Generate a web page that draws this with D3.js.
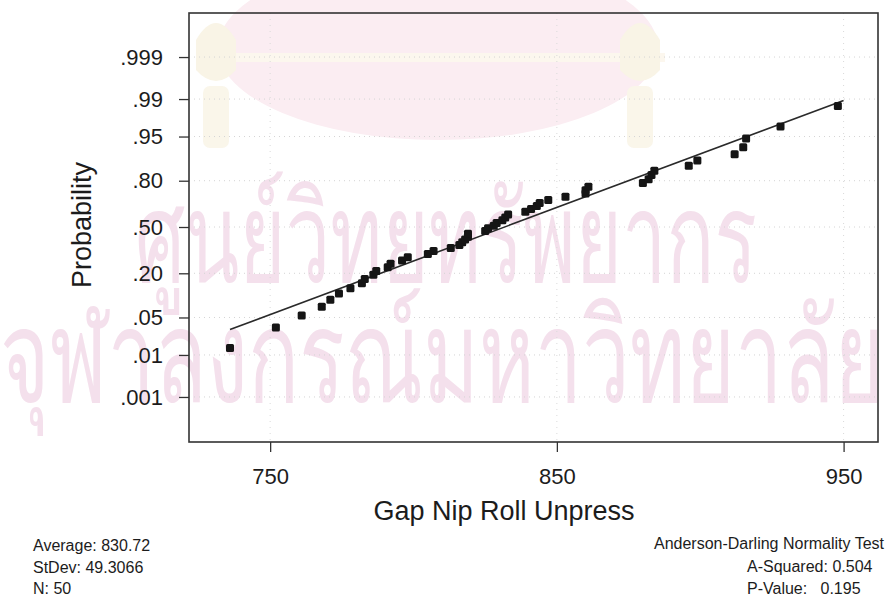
<!DOCTYPE html>
<html><head><meta charset="utf-8">
<script src="https://cdn.jsdelivr.net/npm/d3@7"></script>
<style>
body{margin:0;background:#fff}
svg{display:block}
text{font-family:"Liberation Sans",Arial,sans-serif;fill:#1c1c1c}
</style>
</head><body>
<svg id="c" width="886" height="597"></svg>
<script>
// ---- data ----
const gapValues = [736,752,761,768,771,774,778,782,783,786,787,791,792,796,798,805,807,813,816,817,818,819,819,825,826,828,829,831,832,833,839,841,843,844,847,853,860,860,861,880,882,883,884,896,899,912,915,916,928,948];
const probTicks = [0.001,0.01,0.05,0.20,0.50,0.80,0.95,0.99,0.999];
const probTickLabels = [".001",".01",".05",".20",".50",".80",".95",".99",".999"];
const xTicks = [750,850,950];
const fitLineX = [736,950];
const fitLineP = [0.0312,0.9893];
const statsLeft = ["Average: 830.72","StDev: 49.3066","N: 50"];
const statsRight = ["Anderson-Darling Normality Test","A-Squared: 0.504","P-Value:   0.195"];
const xTitle = "Gap Nip Roll Unpress";
const yTitle = "Probability";
const watermark1 = "ศูนย์วิทยทรัพยากร";
const watermark2 = "จุฬาลงกรณ์มหาวิทยาลัย";

// inverse standard normal CDF (Acklam)
function qnorm(p){
  const a=[-3.969683028665376e+01,2.209460984245205e+02,-2.759285104469687e+02,1.383577518672690e+02,-3.066479806614716e+01,2.506628277459239e+00];
  const b=[-5.447609879822406e+01,1.615858368580409e+02,-1.556989798598866e+02,6.680131188771972e+01,-1.328068155288572e+01];
  const c=[-7.784894002430293e-03,-3.223964580411365e-01,-2.400758277161838e+00,-2.549732539343734e+00,4.374664141464968e+00,2.938163982698783e+00];
  const d=[7.784695709041462e-03,3.224671290700398e-01,2.445134137142996e+00,3.754408661907416e+00];
  const pl=0.02425; let q,r;
  if(p<pl){q=Math.sqrt(-2*Math.log(p));return (((((c[0]*q+c[1])*q+c[2])*q+c[3])*q+c[4])*q+c[5])/((((d[0]*q+d[1])*q+d[2])*q+d[3])*q+1);}
  if(p<=1-pl){q=p-0.5;r=q*q;return (((((a[0]*r+a[1])*r+a[2])*r+a[3])*r+a[4])*r+a[5])*q/(((((b[0]*r+b[1])*r+b[2])*r+b[3])*r+b[4])*r+1);}
  q=Math.sqrt(-2*Math.log(1-p));return -(((((c[0]*q+c[1])*q+c[2])*q+c[3])*q+c[4])*q+c[5])/((((d[0]*q+d[1])*q+d[2])*q+d[3])*q+1);
}

const svg = d3.select("#c");
const L=189,R=878,T=13,B=442;
const x = d3.scaleLinear().domain([721.7,962]).range([L,R]);
const yz = d3.scaleLinear().domain([-3.909,3.891]).range([B,T]);
const y = p => yz(qnorm(p));

const n = gapValues.length;
const sorted = gapValues.slice().sort(d3.ascending);
const pts = sorted.map((v,i)=>({v, p:(i+1-0.3)/(n+0.4)}));

// ---- background watermark ----
const wm = svg.append("g").attr("class","watermark");
wm.append("ellipse").attr("cx",438).attr("cy",48).attr("rx",220).attr("ry",92).attr("fill","#fbedf2");
wm.append("rect").attr("x",215).attr("y",53).attr("width",450).attr("height",9).attr("fill","#fcf7ee");
[[196,8],[620,8]].forEach(([tx,ty])=>{
  wm.append("path").attr("d",`M${tx},${ty+32} q20,-34 40,0 l0,30 q-20,22 -40,0z`).attr("fill","#f9f4e6");
  wm.append("rect").attr("x",tx+7).attr("y",ty+78).attr("width",26).attr("height",62).attr("rx",7).attr("fill","#faf6ea");
});
const thaiFont = "'Loma','Noto Sans Thai Looped','Garuda','Norasi','Noto Sans Thai',sans-serif";
wm.append("text").attr("x",135).attr("y",282).attr("textLength",622).attr("lengthAdjust","spacingAndGlyphs")
  .style("font-size","126px").style("fill","#f4e0ec").style("font-family",thaiFont).text(watermark1);
wm.append("text").attr("x",0).attr("y",402).attr("textLength",884).attr("lengthAdjust","spacingAndGlyphs")
  .style("font-size","130px").style("fill","#f4e0ec").style("font-family",thaiFont).text(watermark2);

// ---- grid ----
const grid = svg.append("g");
probTicks.forEach(p=>grid.append("line").attr("x1",L).attr("x2",R).attr("y1",y(p)).attr("y2",y(p))
  .attr("stroke","#d4d4d4").attr("stroke-width",1).attr("stroke-dasharray","1,4"));
xTicks.forEach(v=>grid.append("line").attr("x1",x(v)).attr("x2",x(v)).attr("y1",T).attr("y2",B)
  .attr("stroke","#dadada").attr("stroke-width",1).attr("stroke-dasharray","1,5"));

// ---- axes ----
const ax = svg.append("g").attr("transform",`translate(0,${B})`)
  .call(d3.axisBottom(x).tickValues(xTicks).tickFormat(d3.format("d")).tickSize(10).tickPadding(16));
const ay = svg.append("g").attr("transform",`translate(${L},0)`)
  .call(d3.axisLeft(yz).tickValues(probTicks.map(qnorm)).tickFormat((d,i)=>probTickLabels[i]).tickSize(10).tickPadding(16));
[ax,ay].forEach(g=>{
  g.select(".domain").remove();
  g.selectAll(".tick line").attr("stroke","#333").attr("stroke-width",1.3);
  g.selectAll(".tick text").style("font-size","22px").style("font-family","'Liberation Sans',Arial,sans-serif").attr("fill","#1c1c1c");
});

svg.append("rect").attr("x",L).attr("y",T).attr("width",R-L).attr("height",B-T)
  .attr("fill","none").attr("stroke","#333").attr("stroke-width",1.6);

// ---- fitted line ----
svg.append("line").attr("x1",x(fitLineX[0])).attr("y1",y(fitLineP[0]))
  .attr("x2",x(fitLineX[1])).attr("y2",y(fitLineP[1]))
  .attr("stroke","#2a2a2a").attr("stroke-width",1.6);

// ---- points ----
const s=8;
svg.append("g").selectAll("rect").data(pts).join("rect")
  .attr("x",d=>x(d.v)-s/2).attr("y",d=>y(d.p)-s/2).attr("width",s).attr("height",s).attr("rx",1.5)
  .attr("fill","#151515");

// ---- titles ----
svg.append("text").attr("x",504).attr("y",520).attr("text-anchor","middle")
  .style("font-size","27px").text(xTitle);
svg.append("text").attr("transform","translate(91,225) rotate(-90)").attr("text-anchor","middle")
  .style("font-size","27px").text(yTitle);

// ---- stats ----
const ly=[551,573,594];
statsLeft.forEach((t,i)=>svg.append("text").attr("x",33).attr("y",ly[i]).style("font-size","16px").text(t));
svg.append("text").attr("x",884).attr("y",549).attr("text-anchor","end").style("font-size","16px").text(statsRight[0]);
svg.append("text").attr("x",747).attr("y",572).style("font-size","16px").style("white-space","pre").text(statsRight[1]);
svg.append("text").attr("x",747).attr("y",594).style("font-size","16px").style("white-space","pre").text(statsRight[2]);
</script>
</body></html>
